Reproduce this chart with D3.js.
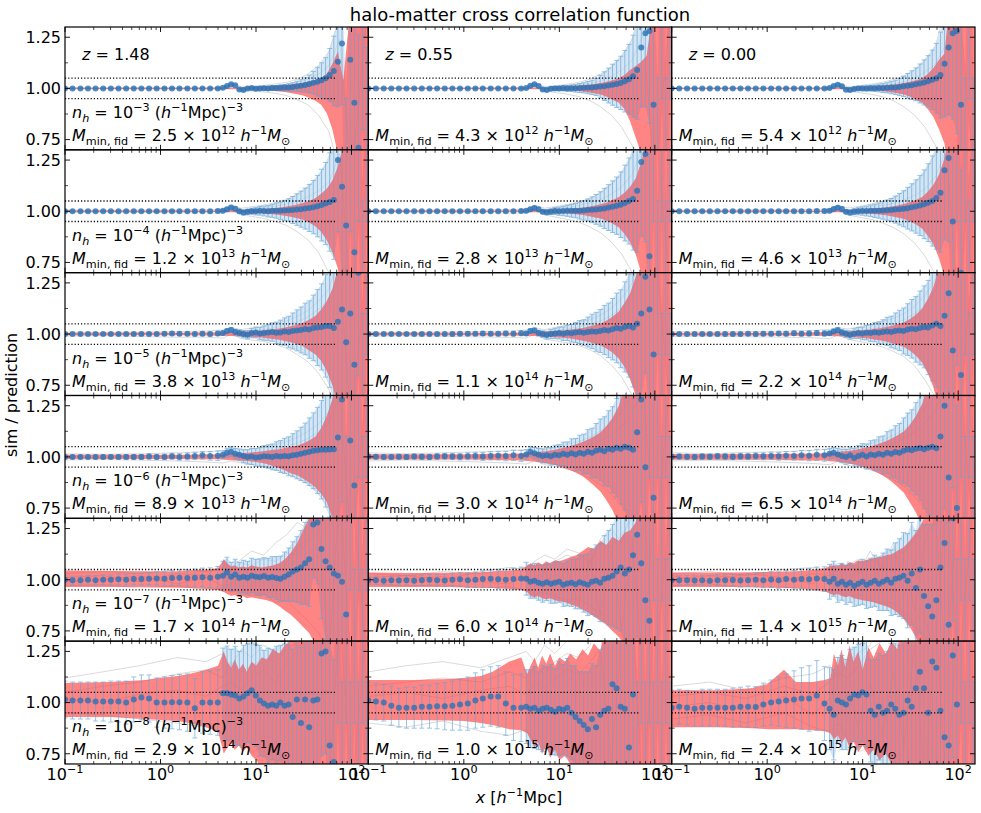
<!DOCTYPE html>
<html><head><meta charset="utf-8">
<script src="https://cdn.jsdelivr.net/npm/d3@7"></script>
<style>body{margin:0;background:#fff}svg{display:block}text{font-family:"DejaVu Sans",sans-serif;white-space:pre}</style>
</head><body>
<svg id="chart" width="981" height="813"></svg>
<script>
// ---------------- DATA ----------------
// bin centres (h^-1 Mpc): 21 log bins + 36 dense bins
const xBins = [0.1,0.12,0.145,0.174,0.209,0.251,0.302,0.363,0.437,0.525,0.631,0.759,0.912,1.1,1.32,1.58,1.91,2.29,2.75,3.31,3.98,
  4.5,4.97,5.49,6.06,6.69,7.38,8.15,9.0,9.94,10.97,12.11,13.38,14.77,16.31,18.0,19.88,21.95,24.23,26.76,29.54,32.62,36.02,39.77,43.91,48.48,53.53,59.1,65.25,72.05,79.55,87.83,96.98,107.1,118.2,130.5,144.1];
// knots of the prediction (red) band
const redX = [0.1,0.3,0.7,1,1.5,2,3,4,4.6,5,5.5,6,6.6,7.3,8,9,10,11.5,13,15,17.5,20,23,27,31,36,42,48,55,63,72,82,100,150];
// knots of the individual realisations (grey)
const greyX = [0.1,0.25,0.6,1.5,3,4.5,5.5,7,9,12,16,21,27,35,45,58,75,100,150];

const titleText = "halo-matter cross correlation function";
const redshifts = ["1.48","0.55","0.00"];
const densityExp = ["−3","−4","−5","−6","−7","−8"];
const massMant = [["2.5","4.3","5.4"],["1.2","2.8","4.6"],["3.8","1.1","2.2"],["8.9","3.0","6.5"],["1.7","6.0","1.4"],["2.9","1.0","2.4"]];
const massExp  = [["12","12","12"],["13","13","13"],["13","14","14"],["13","14","14"],["14","14","15"],["14","15","15"]];
const yTicks = [0.75,1.0,1.25];
const yMinor = [0.875,1.125];
const xTicks = [0.1,1,10,100];
const xTickExp = ["−1","0","1","2"];

// values in percent: ratio = 1 + v/100
const meanR1 = [
 [0,0,0,0,0,0,0,0,0,0,0,0,0,0,0,0,0,0,0,0,0, 0.3,1.2,2,1.5,-0.5,-0.8,0,0.2,-0.2,0,0.1,0,0.2,0.2,0.3,0.4,0.5,0.7,1,1.3,1.7,2.2,2.8,3.3,4,5,6.5,8.5,13,22,-45,14,-7,-29,40,-40],
 [0,0,0,0,0,0,0,0,0,0,0,0,0,0,0,0,0,0,0,0,0, 0.2,1.3,2,1.2,-0.5,-0.8,-0.2,0,0,0.1,0,0.1,0.1,0.2,0.3,0.4,0.5,0.7,0.9,1.1,1.4,1.8,2.2,2.7,3.5,4.5,6,9,20,27,28,-8,-45,45,-45,45],
 [0,0,0,0,0,0,0,0,0,0,0,0,0,0,0,0,0,0,0,0,0, 0.2,1.2,1.8,1,-0.6,-0.8,-0.3,0,0,0,0.1,0.1,0.2,0.2,0.3,0.4,0.5,0.7,1,1.3,1.6,2,2.4,2.9,3.5,4.2,5,6.5,12,20,27,28,-8,-45,45,-45]];
const errR1 = [
 [0.3,0.3,0.3,0.3,0.3,0.3,0.3,0.3,0.3,0.3,0.3,0.3,0.3,0.4,0.4,0.4,0.4,0.4,0.4,0.5,0.5, 0.3,0.3,0.35,0.4,0.45,0.5,0.55,0.6,0.7,0.8,0.9,1,1.1,1.2,1.35,1.5,1.8,2.1,2.5,3,3.5,4.3,5.5,7,8.5,10,13,17,22,30,40,48,50,55,60,60],
 [0.3,0.3,0.3,0.3,0.3,0.3,0.3,0.3,0.3,0.3,0.3,0.3,0.3,0.4,0.4,0.4,0.4,0.4,0.4,0.5,0.5, 0.35,0.4,0.5,0.55,0.6,0.7,0.8,0.95,1.1,1.25,1.4,1.6,1.9,2.2,2.5,3,3.5,4.2,5.5,7,8.5,10,11.5,13,15,17,20,24,29,36,45,50,50,50,50,50],
 [0.3,0.3,0.3,0.3,0.3,0.3,0.3,0.3,0.3,0.3,0.3,0.3,0.3,0.4,0.4,0.4,0.4,0.4,0.4,0.5,0.5, 0.35,0.4,0.5,0.55,0.6,0.7,0.8,0.95,1.1,1.25,1.4,1.6,1.9,2.2,2.5,3,3.5,4.2,5,6,7,8,9.5,11,12.5,14.5,17,21,26,33,42,50,50,50,50,50]];
const redHiR1 = [
 [0.3,0.3,0.3,0.3,0.3,0.3,0.3,0.3,0.3,0.4,0.4,0.4,0.4,0.5,0.5,0.6,0.7,0.8,0.9,1.1,1.3,1.6,1.9,2.3,2.8,3.3,4,5,7,12,18,4,45,45],
 [0.3,0.3,0.3,0.3,0.3,0.3,0.3,0.3,0.3,0.4,0.4,0.4,0.4,0.5,0.5,0.6,0.7,0.8,1,1.2,1.5,1.8,2.2,2.7,3.3,4,5,6.5,9,11,13,16,45,45],
 [0.3,0.3,0.3,0.3,0.3,0.3,0.3,0.3,0.3,0.4,0.4,0.4,0.4,0.5,0.5,0.6,0.7,0.8,1,1.2,1.5,1.8,2.2,2.7,3.3,4,5,7,10,14,17,45,45,45]];
const redLoR1 = [
 [0.3,0.3,0.3,0.3,0.3,0.3,0.3,0.3,0.3,0.4,0.4,0.4,0.4,0.5,0.5,0.6,0.7,0.8,1,1.2,1.5,1.8,2.2,2.8,3.5,4.5,6,8,12,20,32,45,45,45],
 [0.3,0.3,0.3,0.3,0.3,0.3,0.3,0.3,0.3,0.4,0.4,0.4,0.4,0.5,0.5,0.6,0.7,0.8,1,1.2,1.5,1.9,2.4,3,4,5.5,7,10,16,24,32,45,45,45],
 [0.3,0.3,0.3,0.3,0.3,0.3,0.3,0.3,0.3,0.4,0.4,0.4,0.4,0.5,0.5,0.6,0.7,0.8,1,1.2,1.5,1.9,2.4,3,4,5.5,7,10,14,20,27,45,45,45]];
const greyR1 = [
 [[0.3,0.2,0.3,0.2,0.3,0.5,2.5,0.8,1,1.5,2.2,3,4.5,7,11,18,35,45,45],[-0.3,-0.2,-0.3,-0.3,-0.4,-0.5,1,-1,-1.3,-1.7,-2.4,-3.5,-5.5,-8,-13,-21,-40,-45,-45],[0.1,0,0.1,0,0,0.2,1.8,0.4,0.6,1,1.4,2,3,4.5,7,11,24,-45,45]],
 [[0.3,0.2,0.2,0.2,0.3,0.5,2.5,0.9,1.3,2,3,4.5,7,10,16,24,45,45,45],[-0.3,-0.2,-0.2,-0.3,-0.4,-0.6,1,-1.3,-2,-2.8,-4,-6,-9,-13,-19,-28,-45,-45,-45],[0,0.1,0,0.1,0,0.3,1.5,0.5,0.8,1.3,1.8,2.5,3.5,6,9,14,26,-45,45]],
 [[0.3,0.2,0.2,0.2,0.3,0.5,2.5,0.9,1.3,2,3,4.3,6,9,14,21,40,45,45],[-0.3,-0.2,-0.2,-0.3,-0.4,-0.6,1,-1.3,-2,-2.8,-4,-6,-9,-13,-19,-28,-45,-45,-45],[0.1,0,0.1,0,0.1,0.2,1.6,0.4,0.7,1.1,1.6,2.3,3.3,5,8,12,22,45,-45]]];

const meanR2 = [
 [0,0,0,0,0,0,0,0,0,0,0,0,0,0,0,0,0,0,0,0,0.1, 0.3,1,1.8,1.2,0,-0.6,-0.3,0,0,0.2,0.1,0,0.2,0.3,0.2,0.4,0.5,0.6,0.8,1,1.3,1.6,2,2.5,3,3.8,4.5,5.5,25,12,-7,40,-20,45,-45,45],
 [0,0,0,0,0,0,0,0,0,0,0,0,0,0,0,0,0,0,0,0,0.1, 0.2,1,1.6,1,-0.2,-0.5,-0.2,0.1,0,0.1,0.2,0.2,0.3,0.3,0.4,0.6,0.7,0.9,1.1,1.4,1.8,2.2,2.7,3.2,4,5,6,10,24,28,-22,45,-45,45,-45,45],
 [0,0,0,0,0,0,0,0,0,0,0,0,0,0,0,0,0,0,0,0.1,0.1, 0.3,1.1,1.7,1.1,-0.2,-0.6,-0.2,0,0.1,0.1,0.2,0.2,0.3,0.4,0.5,0.6,0.8,1,1.2,1.5,1.9,2.3,2.8,3.4,4.2,5,6.5,9,20,26,-5,45,-30,45,-45,45]];
const errR2 = [
 [0.4,0.4,0.4,0.4,0.4,0.4,0.4,0.4,0.5,0.5,0.5,0.5,0.5,0.5,0.5,0.6,0.6,0.6,0.6,0.7,0.7, 0.6,0.65,0.7,0.8,0.95,1.1,1.3,1.5,1.8,2.1,2.4,2.8,3.2,3.7,4.2,4.9,5.6,6.6,7.7,8.8,10,11.5,13,15,17.5,20,24,29,35,42,50,50,50,50,50,50],
 [0.4,0.4,0.4,0.4,0.4,0.4,0.4,0.4,0.5,0.5,0.5,0.5,0.5,0.5,0.5,0.6,0.6,0.6,0.6,0.7,0.7, 0.6,0.65,0.7,0.85,1,1.2,1.4,1.7,2,2.3,2.7,3.1,3.5,4.1,4.7,5.4,6.3,7.3,8.4,9.8,11.2,12.6,14,16,18.5,21,25,30,36,43,50,50,50,50,50,50],
 [0.4,0.4,0.4,0.4,0.4,0.4,0.4,0.4,0.5,0.5,0.5,0.5,0.5,0.5,0.5,0.6,0.6,0.6,0.6,0.7,0.7, 0.6,0.65,0.75,0.9,1.05,1.25,1.5,1.75,2.05,2.4,2.8,3.2,3.7,4.3,4.9,5.6,6.6,7.7,8.8,10.2,11.5,13,14.7,16.8,19,22,25,29,34,41,50,50,50,50,50,50]];
const redHiR2 = [
 [0.4,0.4,0.4,0.4,0.4,0.4,0.4,0.4,0.4,0.5,0.5,0.5,0.6,0.6,0.7,0.8,0.9,1,1.2,1.5,1.8,2.2,2.7,3.3,4,5,6.5,8.5,11,15,22,32,45,45],
 [0.4,0.4,0.4,0.4,0.4,0.4,0.4,0.4,0.4,0.5,0.5,0.5,0.6,0.6,0.7,0.8,0.9,1,1.2,1.5,1.8,2.2,2.7,3.4,4.2,5.5,7,9,12,16,24,35,45,45],
 [0.4,0.4,0.4,0.4,0.4,0.4,0.4,0.4,0.4,0.5,0.5,0.5,0.6,0.6,0.7,0.8,0.9,1.1,1.3,1.6,1.9,2.3,2.8,3.5,4.4,5.5,7,9.5,13,18,26,38,45,45]];
const redLoR2 = [
 [0.4,0.4,0.4,0.4,0.4,0.4,0.4,0.4,0.4,0.5,0.5,0.5,0.6,0.6,0.7,0.8,0.9,1,1.2,1.5,1.8,2.2,2.7,3.4,4.2,5.5,7.5,10,14,20,28,45,45,45],
 [0.4,0.4,0.4,0.4,0.4,0.4,0.4,0.4,0.4,0.5,0.5,0.5,0.6,0.6,0.7,0.8,0.9,1,1.2,1.5,1.8,2.3,2.9,3.6,4.5,6,8,11,15,21,30,45,45,45],
 [0.4,0.4,0.4,0.4,0.4,0.4,0.4,0.4,0.4,0.5,0.5,0.5,0.6,0.6,0.7,0.8,0.9,1.1,1.3,1.6,2,2.4,3,3.8,4.8,6.3,8.5,12,16,23,32,45,45,45]];
const greyR2 = [
 [[0.6,0.5,0.6,0.6,0.8,1,3,1.5,2.2,3,4.2,5.6,8.4,12,17,25,45,45,45],[-0.6,-0.5,-0.6,-0.7,-0.8,-1,0.5,-1.8,-2.5,-3.5,-5,-7,-10,-14,-20,-30,-45,-45,-45],[0.2,0.3,-0.2,0.3,-0.3,0.4,2,0.8,1.1,1.8,2.5,3.5,5,7,10,14,28,-45,45]],
 [[0.6,0.5,0.6,0.6,0.8,1,3,1.5,2.2,3.2,4.6,6.3,9,13,18,27,45,45,45],[-0.6,-0.5,-0.6,-0.7,-0.8,-1,0.5,-1.8,-2.8,-3.9,-5.3,-7.7,-10.5,-15,-21,-30,-45,-45,-45],[-0.2,0.3,0.2,-0.3,0.4,0.2,1.8,0.6,1.3,1.8,2.8,4.2,5.6,8.4,12,18,32,45,-45]],
 [[0.6,0.5,0.7,0.6,0.9,1.1,3,1.6,2.3,3.4,4.9,6.7,9.5,13.5,19,28,45,45,45],[-0.6,-0.6,-0.6,-0.8,-0.9,-1.1,0.4,-1.9,-2.8,-3.9,-5.6,-8,-11,-15.5,-22,-31,-45,-45,-45],[0.3,-0.2,0.2,0.4,-0.3,0.5,2.2,0.4,1.1,2.1,2.8,3.9,5.6,7.7,11,17,30,-45,45]]];

const meanR3 = [
 [0,0,0,0,0,0,0,0,0,0,0,0,0,0.2,0.3,0.2,0.1,0,0.2,0,0.3, 0.5,1.5,2,1,0.5,0,-0.3,0.5,0.8,0.3,0.5,0.8,1,0.6,0.8,1.2,1,1.5,1.8,2,2.5,2.2,3,3.2,3.5,4,4,3,6,12,-4,10,-15,30,-40,40],
 [0,0,0,0,0,0,0,0,0,0,0,0,0.1,0.2,0.1,0.3,0.2,0.1,0.3,0.2,0.4, 0.3,1.5,1.8,0.5,0,-0.5,0,0.3,0.5,0.2,0.6,0.4,0.8,1,0.7,1,1.3,1.1,1.5,2,1.8,2.4,3,2.6,3.5,4,3.2,5,10,28,12,-10,40,-40,40,-40],
 [0,0,0,0,0,0,0,0,0,0,0.1,0,0.2,0.1,0.3,0.2,0.4,0.2,0.3,0.5,0.3, 0.4,1.3,1.9,0.8,0.1,-0.4,0.2,0.5,0.3,0.7,0.5,0.9,0.7,1,1.3,1,1.5,1.8,1.5,2.2,2.6,2.3,3,3.5,3.2,4.2,5,4,9,20,-8,35,-20,40,-40,40]];
const errR3 = [
 [0.6,0.6,0.6,0.6,0.6,0.6,0.7,0.7,0.7,0.7,0.7,0.8,0.8,0.8,0.8,0.9,0.9,0.9,1,1,1.1, 0.9,1,1.15,1.35,1.55,1.75,2,2.3,2.65,3,3.5,4,4.5,5.2,6,6.7,7.7,8.8,10,11.2,12.6,14,16,18.5,21,25,30,36,43,50,50,50,50,50,50,50],
 [0.7,0.7,0.7,0.7,0.7,0.7,0.8,0.8,0.8,0.8,0.8,0.9,0.9,0.9,0.9,1,1,1,1.1,1.1,1.2, 0.95,1.05,1.2,1.4,1.6,1.9,2.2,2.5,2.9,3.3,3.8,4.3,4.9,5.6,6.3,7.3,8.4,9.5,10.5,12,13.3,15,17,19,22,25,29,34,40,47,50,50,50,50,50,50],
 [0.8,0.8,0.8,0.8,0.8,0.8,0.9,0.9,0.9,0.9,0.9,1,1,1,1,1.1,1.1,1.1,1.2,1.2,1.3, 1,1.1,1.3,1.5,1.75,2,2.4,2.7,3.1,3.6,4.1,4.7,5.3,6,6.9,7.7,8.8,9.8,11.2,12.6,14.3,16,18,20,23,27,31,36,42,48,50,50,50,50,50,50]];
const redHiR3 = [
 [0.6,0.6,0.6,0.6,0.6,0.6,0.7,0.8,0.8,1,1,1.1,1.1,1.2,1.3,1.4,1.5,1.7,2,2.3,2.7,3.2,3.8,4.5,5.5,7,9,12,16,22,32,45,45,45],
 [0.6,0.6,0.6,0.6,0.7,0.7,0.7,0.8,0.8,1,1,1.1,1.2,1.3,1.4,1.5,1.7,1.9,2.2,2.6,3,3.6,4.3,5.2,6.5,8.5,11,15,20,28,40,45,45,45],
 [0.7,0.7,0.7,0.7,0.7,0.8,0.8,0.9,0.9,1.1,1.1,1.2,1.3,1.4,1.5,1.7,1.9,2.1,2.5,2.9,3.4,4,4.8,5.8,7.2,9.5,12.5,17,23,32,45,45,45,45]];
const redLoR3 = [
 [0.6,0.6,0.6,0.6,0.6,0.6,0.7,0.8,0.8,1,1,1.1,1.1,1.2,1.3,1.4,1.5,1.7,2,2.4,2.8,3.4,4,5,6,8,10,13,18,25,35,45,45,45],
 [0.6,0.6,0.6,0.6,0.7,0.7,0.7,0.8,0.8,1,1,1.1,1.2,1.3,1.4,1.5,1.7,1.9,2.2,2.7,3.2,3.8,4.6,5.6,7,9,12,16,22,30,42,45,45,45],
 [0.7,0.7,0.7,0.7,0.7,0.8,0.8,0.9,0.9,1.1,1.1,1.2,1.3,1.4,1.5,1.7,1.9,2.2,2.6,3,3.6,4.3,5.2,6.3,8,10.5,14,19,26,36,45,45,45,45]];
const greyR3 = [
 [[1,0.8,1,1.2,1.5,2,3,2.2,2.9,3.6,5,6.5,8.5,11.5,16,22,40,45,45],[-1,-0.8,-1.2,-1.5,-1.5,-2,0,-2.2,-2.9,-3.6,-5,-7,-10,-13.5,-19,-27,-45,-45,-45],[0.3,-0.4,0.5,0.2,0.8,0.5,2,1.1,1.8,2.2,3.2,4.3,6,8.5,12,17,30,-45,45]],
 [[1,0.8,1,1.2,1.5,2,3,2.2,3.2,4.3,5.6,7,9.2,12.6,17.5,25,42,45,45],[-1,-0.9,-1.1,-1.4,-1.6,-2,0,-2.5,-3.2,-4.3,-5.6,-7.7,-10.5,-15,-21,-30,-45,-45,-45],[-0.3,0.4,-0.5,0.3,0.6,-0.4,2.2,0.7,1.4,2.5,3.5,5,6.3,9,13,20,35,45,-45]],
 [[1.2,1,1.2,1.4,1.8,2.2,3.2,2.5,3.5,4.6,6,7.7,10,13.5,19,27,45,45,45],[-1.2,-1,-1.3,-1.5,-1.8,-2.2,-0.5,-2.5,-3.5,-4.6,-6.3,-8.5,-11,-15.5,-22.5,-31,-45,-45,-45],[0.4,-0.5,0.3,-0.2,0.7,0.5,2.5,0.9,1.6,2.5,3.5,5,7,10,14,21,38,-45,45]]];

const meanR4 = [
 [0,0,0,0,0,0,0,0,0,0,0,0.2,0,0,0.3,0,0.2,0.5,0.8,0.5,0.6, 1,2,2.5,1.5,1,0.5,0,0.2,-0.3,0,0.3,0.2,0,0.4,0.2,0.5,0.3,0.8,1,1.5,2,2.5,3,3.2,3.5,3.5,3.6,3.8,9.5,28,-40,8,-14,40,-40,40],
 [0.2,0.1,0,0,0.1,0,0.2,0.1,0,0.2,0.3,0.2,0.1,0.3,0.4,0.2,0.5,0.6,0.4,0.8,0.5, 1.2,2.5,1.8,1,0.5,0.8,0.3,1,0.8,1.5,1,1.8,1.2,2,1.5,2.5,2,3,3.5,2.8,4,3.5,4.5,4,5,4.5,3.5,12,28,-5,40,-20,40,-40,40,-40],
 [0.1,0.2,0.1,0,0.2,0.1,0.3,0.2,0.1,0.3,0.2,0.4,0.3,0.5,0.3,0.6,0.5,0.8,0.6,1,0.8, 1.5,2,1.2,0.5,0,0.8,-0.5,0.5,1,0.2,1.2,0.8,1.5,1,2,1.6,2.4,2,3,3.6,3.2,4,4.4,3.8,4.5,5,4.2,10,25,-10,35,-25,40,-40,40,-40]];
const errR4 = [
 [0.9,0.9,0.9,0.9,1,1,1,1.1,1.1,1.2,1.2,1.3,1.3,1.4,1.5,1.6,1.7,1.8,1.9,2.1,2.3, 2,2.2,2.4,2.6,2.9,3.2,3.5,3.9,4.3,4.7,5.2,5.7,6.3,7,7.8,8.6,9.5,10.5,11.7,13,14.5,16.5,18.5,21,24,28,33,39,46,50,50,50,50,50,50,50],
 [1.1,1.1,1.1,1.1,1.2,1.2,1.2,1.3,1.3,1.4,1.4,1.5,1.6,1.7,1.8,1.9,2,2.1,2.3,2.5,2.7, 2.3,2.5,2.8,3.1,3.4,3.8,4.2,4.7,5.2,5.7,6.3,7,7.8,8.6,9.6,10.8,12,13.3,15,16.8,18.5,21,24,27,31,36,42,48,50,50,50,50,50,50,50,50],
 [1.2,1.2,1.2,1.2,1.3,1.3,1.3,1.4,1.4,1.5,1.5,1.6,1.7,1.8,1.9,2,2.1,2.3,2.5,2.7,2.9, 2.5,2.7,3,3.3,3.6,4,4.5,5,5.5,6.1,6.7,7.5,8.3,9.2,10.3,11.5,12.8,14.3,16,17.8,19.8,22.5,25.5,29,33,38,44,50,50,50,50,50,50,50,50,50]];
const redHiR4 = [
 [1,1,1,1,1,1.1,1.2,1.2,1.3,1.5,1.6,1.7,1.8,1.9,2,2.2,2.4,2.7,3,3.4,3.8,4.3,5,5.5,6.5,8,10,14,20,28,45,45,45,45],
 [1.3,1.3,1.3,1.3,1.4,1.5,1.6,1.7,2,2.1,2.2,2.4,2.6,2.8,3.1,3.5,4,4.6,5.3,6.2,7.3,8.5,10,12,15,19,25,34,45,45,45,45,45,45],
 [1.4,1.4,1.4,1.4,1.5,1.6,1.7,1.8,2.1,2.2,2.4,2.6,2.8,3,3.3,3.7,4.2,4.8,5.6,6.5,7.7,9,10.5,12.5,15.5,20,26,35,45,45,45,45,45,45]];
const redLoR4 = [
 [1,1,1,1,1,1.1,1.2,1.2,1.3,1.5,1.6,1.7,1.8,1.9,2,2.2,2.5,3,3.5,4.5,5.5,6.5,8,9,10.5,12.5,15,18,22,30,45,45,45,45],
 [1.3,1.3,1.3,1.3,1.4,1.5,1.6,1.7,2,2.1,2.3,2.5,2.8,3.1,3.5,4,4.7,5.5,6.5,7.8,9.5,11.5,14,17,21,26,33,42,45,45,45,45,45,45],
 [1.4,1.4,1.4,1.4,1.5,1.6,1.7,1.8,2.1,2.2,2.4,2.6,2.9,3.2,3.6,4.2,4.9,5.8,6.8,8.2,10,12,14.5,17.5,22,27,34,43,45,45,45,45,45,45]];
const greyR4 = [
 [[1.5,1.3,1.5,2,2.5,3,4,3,3.7,4.5,6,7.5,9.5,12.5,16,22,40,45,45],[-1.5,-1.3,-1.6,-2,-2.5,-3,-2,-3,-3.7,-4.5,-6,-8,-10.5,-13.5,-18,-25,-45,-45,-45],[0.5,-0.6,0.8,-0.4,1,0.5,2.5,1.1,1.9,2.6,3.7,5.2,6.7,9,12,16.5,30,-45,45]],
 [[2,1.5,2,2.5,3,3.5,5,3.7,4.5,6,7.5,9.7,12.7,16.5,22.5,30,45,45,45],[-2,-1.5,-2,-2.5,-3,-3.5,-2,-3.7,-4.5,-6,-7.5,-10.5,-13.5,-18,-24,-32,-45,-45,-45],[0.5,-0.8,1,-0.5,1.2,0.6,3,1.5,2.2,3,4.5,6,8.2,11,15,21,35,-45,45]],
 [[2,1.6,2.2,2.6,3.2,3.8,5.5,3.7,4.9,6.4,8.2,10.5,13.5,18,24,32,45,45,45],[-2,-1.6,-2.1,-2.6,-3.2,-3.8,-2.2,-4.1,-4.9,-6.4,-8.2,-11.2,-14.2,-19.5,-25.5,-33,-45,-45,-45],[-0.6,0.7,-0.4,1,0.6,1.4,3.2,1.3,2.6,3.4,4.9,6.4,9,12,16.5,22.5,40,45,-45]]];

const meanR5 = [
 [0,-0.3,-0.2,0,-0.2,0,0,0.2,0,0.3,0.3,0.5,0.6,0.5,0.8,1,0.8,1,1.2,1,1.5, 2,3.5,1.5,2.5,1,1.5,1,2,1.5,1.2,1.8,1,1.3,0.8,0.5,1.5,2.5,4,5,6,8,10,27,28,15,9,6,3,2,-1,-17,45,-45,45,-45,45],
 [-0.3,-0.2,-0.5,-0.3,-0.4,-0.2,-0.5,-0.3,0,-0.2,-0.4,0,0.2,-0.2,0,0.3,0.5,0.2,0,0.4,0.6, 0.5,-1,-0.5,-1.5,-2,-1.2,-2,-1.5,-1,-2.5,-1.8,-1.5,-2.2,-1.2,-1.8,-2.5,-1,-0.5,-1.5,0.5,1,2,4,6,3,5,12,22,8,-10,-20,40,-40,40,-40,40],
 [-0.2,-0.3,-0.2,-0.4,-0.3,-0.5,-0.2,-0.3,-0.1,-0.4,-0.2,0,-0.3,0.1,-0.2,0.3,0,0.4,0.2,0.6,0.3, -1,0.5,-2,-1,-2.5,-1.5,-3,-2,-1,-2.5,-1.5,-0.5,-2,-1,0,-1.5,0.5,1,2,-0.5,3,-4,5,-8,-13,-18,-10,6,18,-22,30,-40,40,-40,40,-40]];
const errR5 = [
 [2,2,2,2.2,2.2,2.4,2.4,2.6,2.6,2.8,2.8,3,3.2,3.4,3.6,3.8,4,4.2,4.5,4.8,5, 7,7.5,7,7.5,7.5,8,8,8.5,8.5,9,9,9.5,10,10.5,11,12,13,14.5,16,18,20,23,26,30,34,38,42,46,50,50,50,50,50,50,50,50],
 [2,2,2,2.1,2.2,2.3,2.4,2.5,2.6,2.8,3,3.2,3.4,3.6,3.8,4,4.3,4.6,5,5.3,5.6, 8,8,8.5,8.5,9,9,9.5,10,10,10.5,11,11.5,12,13,14,15,16,17.5,19,21,23,25,28,31,35,40,45,50,50,50,50,50,50,50,50,50],
 [2.2,2.2,2.2,2.3,2.4,2.5,2.6,2.7,2.8,3,3.2,3.4,3.6,3.8,4,4.2,4.5,4.8,5.2,5.6,6, 8.5,8.5,9,9,9.5,9.5,10,10.5,11,11.5,12,12.5,13,14,15,16,17.5,19,21,23,25,28,31,35,40,45,50,50,50,50,50,50,50,50,50,50]];
const redHiR5 = [
 [4.5,4.3,4.1,4,4.2,4.5,5,5.5,10,8,6.5,7,6,6.5,6,7,6.5,6,6.5,7,8,10,13,18,24,30,45,45,45,45,45,45,45,45],
 [3.5,3.3,3.4,3.5,3.7,4,4.5,5,7,8,7,8.5,7.5,9,8,9.5,9,10,11,12,14,16,15,19,17,21,19,23,24,28,45,45,45,45],
 [3.5,3.5,3.6,3.8,4,4.2,4.8,5.5,7,7,6.5,8,7,8.5,8,9.5,9,10,10.5,11,12,12.5,14,16,19,23,28,35,45,45,45,45,45,45]];
const redLoR5 = [
 [3.5,3.5,3.6,3.8,3.9,4,4.5,5,6,7,8,7.5,8.5,8,9,8.5,9,9.5,10,11,13,15,17,20,23,26,32,45,45,45,45,45,45,45],
 [3.5,3.5,3.6,3.8,3.9,4,4.5,5,6,8,8.5,8,9,9.5,9,10,10.5,11,12,13,14.5,16,18,20,22,25,28,32,38,45,45,45,45,45],
 [3.5,3.5,3.6,3.8,4,4.2,4.8,5.5,7,7.5,7,8,8.5,8,9,9.5,10,10.5,11,12,13,14,16,19,23,28,35,45,45,45,45,45,45,45]];
const greyR5 = [
 [[3,4,3,5,4,6,5,8,7,10,9,13,12,18,24,30,40,45,45],[-3,-2.5,-4,-3,-5,-4,-6,-5,-8,-7,-11,-10,-15,-20,-26,-35,-45,-45,-45],[1,2,-1,3,2,8,6,10,14,12,18,22,28,25,35,45,45,-45,45],[-1,0,2,-2,1,-3,-2,3,-4,6,-6,9,15,20,30,-40,45,45,-45]],
 [[3,2,4,3,5,6,8,7,9,12,10,14,18,16,22,30,45,45,45],[-2,-3,-2.5,-4,-3.5,-5,-7,-6,-8,-10,-9,-13,-16,-20,-26,-35,-45,-45,-45],[1,2,0,4,6,5,9,12,10,15,13,8,20,25,18,35,45,-45,45],[-1,0.5,1.5,-1,-2,2,-3,4,-5,6,-12,10,-18,14,-25,20,-45,45,45]],
 [[3,4,2,5,6,5,8,7,10,9,12,15,13,20,26,35,45,45,45],[-3,-2,-4,-3.5,-5,-6,-5,-8,-7,-10,-12,-11,-16,-22,-28,-38,-45,-45,-45],[0,2,1,-1,3,2,5,-2,6,-4,8,-6,12,-15,20,30,-45,45,45],[2,-1,3,1,-2,4,-4,9,3,14,5,18,-9,10,-20,-35,45,-45,45]]];

const meanR6 = [
 [1.5,1,1,1,0.5,0.5,0.5,0.5,0,1.5,2.5,2,0,0,0.2,0.2,0,-2.8,0,0,0, 4.6,4.6,4,3.5,2,3,4.6,6,3.5,1,-0.5,-1.5,-1,-1.5,0,-1.5,-1,-7,1.5,-10,1.5,-12,1,1.5,24,25,-21,-29,40,-40,40,-40,40,-40,40,-40],
 [1,0.5,0,-1.5,-2.5,-2.5,-2.5,-2,-2,-1.8,-1.8,-1.5,-1,-0.5,1,2,3,3,-0.5,-2.5,-2.5, -2,-3,-2.5,-4,-3,-2.5,-3.5,-4.5,-3,-3.5,-2.5,-5,-7,-9,-11,-13,-8,-12,-6,-4,-3,9,7,-2,-3,-22,4,-40,40,-40,40,-40,40,-40,40,-40],
 [-2.5,-2,-2.5,-3,-2.5,-2.5,-2.5,-2.5,-2.5,-2,-2,-2.2,-1,0,0.5,1,1.5,2,2,3.5,-0.5, -3,-6,1,0,-1,2,4,3.5,5,4,-4,-6,-2,-5,-4,-1,-3,-6,-5,1,-2,7,15,7,-5,20,17,-4,-17,-21,23,-1,40,-40,40,-40]];
const errR6 = [
 [9,9,9,9,9.5,9.5,10,10,10.5,11,11,11.5,12,12.5,13,13.5,14,14.5,15,15.5,16, 22,23,22,24,23,25,24,26,25,27,26,28,27,29,28,30,31,33,35,37,40,43,46,50,50,50,50,50,50,50,50,50,50,50,50,50],
 [9,9,9,9.5,9.5,10,10,10.5,10.5,11,11.5,12,12.5,13,13.5,14,14.5,15,15.5,16,16.5, 18,19,20,19,21,20,22,21,23,22,24,23,25,24,26,28,27,30,32,35,38,42,46,50,50,50,50,50,50,50,50,50,50,50,50,50],
 [8.5,8.5,8.5,8.5,9,9,9,9,9.5,9.5,10,10,10.5,11,12,13,14,15,16,17,18, 20,22,21,23,22,24,23,25,24,26,25,27,26,28,29,30,32,34,36,39,42,45,48,50,50,50,50,50,50,50,50,50,50,50,50,50]];
const redHiR6 = [
 [9.5,10,11,12,13,14,16,18,25,20,17,21,16,19,15,20,18,22,21,26,24,28,30,45,45,45,45,45,45,45,45,45,45,45],
 [11,11,11.5,12,13,15,20,22,14,18,22,17,23,19,24,18,22,20,24,21,26,23,29,25,45,45,45,45,45,45,45,45,45,45],
 [6,6,7,9,16,10,10,11,12,24,18,26,17,28,20,25,16,27,22,29,24,30,26,45,45,45,45,45,45,45,45,45,45,45]];
const redLoR6 = [
 [7,7,8,8.5,9,10,12,14,25,22,20,23,21,24,22,26,28,32,45,45,45,45,45,45,45,45,45,45,45,45,45,45,45,45],
 [8.5,8.5,8.7,9,10,11,13,13.5,15,18,22,19,25,21,27,23,28,26,30,45,45,45,45,45,45,45,45,45,45,45,45,45,45,45],
 [12,12,12.5,13,13,13,13.5,14,15,18,16,20,17,22,19,24,21,26,23,28,25,30,45,45,45,45,45,45,45,45,45,45,45,45]];
const greyR6 = [
 [[12,15,18,22,20,24,18,26,22,28,25,30,45,45,45,45,45,45,45],[5,8,10,14,16,12,20,15,18,22,20,26,30,45,45,45,45,45,45],[-5,-6,-8,-10,-12,-15,-20,-18,-24,-22,-28,-30,-45,-45,-45,-45,-45,-45,-45],[2,0,4,6,3,8,10,6,12,16,10,20,25,35,45,-45,45,-45,45]],
 [[15,18,20,17,22,25,20,28,24,30,45,45,45,45,45,45,45,45,45],[8,10,12,10,15,12,18,14,20,24,22,28,45,45,45,45,45,45,45],[-10,-12,-9,-14,-16,-13,-20,-22,-26,-24,-30,-45,-45,-45,-45,-45,-45,-45,-45],[3,5,2,6,8,4,10,7,12,16,14,20,26,-30,35,45,-45,45,45]],
 [[8,10,6,12,14,18,12,20,24,28,45,45,45,45,45,45,45,45,45],[-8,-6,-10,-5,-12,-14,-10,-18,-24,-22,-28,-45,-45,-45,-45,-45,-45,-45,-45],[3,5,2,8,4,10,15,12,18,26,30,45,45,45,45,45,45,45,45],[-2,0,-4,3,-6,2,-8,6,-12,10,-16,15,-22,30,-45,45,-45,45,45]]];

// ---------------- DRAWING ----------------
const rows = [
 {mean:meanR1, err:errR1, hi:redHiR1, lo:redLoR1, grey:greyR1},
 {mean:meanR2, err:errR2, hi:redHiR2, lo:redLoR2, grey:greyR2},
 {mean:meanR3, err:errR3, hi:redHiR3, lo:redLoR3, grey:greyR3},
 {mean:meanR4, err:errR4, hi:redHiR4, lo:redLoR4, grey:greyR4},
 {mean:meanR5, err:errR5, hi:redHiR5, lo:redLoR5, grey:greyR5},
 {mean:meanR6, err:errR6, hi:redHiR6, lo:redLoR6, grey:greyR6}];

const W = 981, H = 813;
const L0 = 65, T0 = 27, PW = 303.33, PH = 122.83;
const NLOG = 21;
const FS = 16;
const svg = d3.select("#chart");
svg.append("rect").attr("width", W).attr("height", H).attr("fill", "#fff");
const defs = svg.append("defs");
const val = v => 1 + v / 100;

function mtext(sel, parts, size) {
  let cur = 0;
  parts.forEach(p => {
    const target = p.s === "sup" ? -0.42 * size : (p.s === "sub" ? 0.24 * size : 0);
    const ts = sel.append("tspan").attr("dy", (target - cur).toFixed(2)).text(p.t);
    cur = target;
    if (p.s) ts.attr("font-size", (0.7 * size).toFixed(1));
    if (p.i) ts.attr("font-style", "italic");
  });
  return sel;
}

rows.forEach((R, r) => {
  for (let c = 0; c < 3; c++) {
    const x0 = L0 + c * PW, y0 = T0 + r * PH;
    const x = d3.scaleLog().domain([0.1, 150]).range([x0, x0 + PW]);
    const y = d3.scaleLinear().domain([0.7, 1.3]).range([y0 + PH, y0]);
    const cid = "clip" + r + c;
    defs.append("clipPath").attr("id", cid).append("rect")
      .attr("x", x0).attr("y", y0).attr("width", PW).attr("height", PH);
    const g = svg.append("g").attr("clip-path", "url(#" + cid + ")");
    const m = R.mean[c], e = R.err[c], hi = R.hi[c], lo = R.lo[c];
    const n = Math.min(m.length, e.length, xBins.length);

    // grey individual realisations
    R.grey[c].forEach(line => {
      g.append("path").datum(line.slice(0, greyX.length))
        .attr("d", d3.line().x((d, i) => x(greyX[i])).y(d => y(val(d))))
        .attr("fill", "none").attr("stroke", "#c4c4c4").attr("stroke-width", 0.8).attr("opacity", 0.8);
    });

    // light blue envelope of the dense bins
    const dense = d3.range(NLOG, n);
    g.append("path").datum(dense)
      .attr("d", d3.area().x(i => x(xBins[i])).y0(i => y(val(m[i] - e[i]))).y1(i => y(val(m[i] + e[i]))))
      .attr("fill", "#b9d6ec").attr("opacity", 0.6);

    // prediction band
    const nr = Math.min(redX.length, hi.length, lo.length);
    g.append("path").datum(d3.range(nr))
      .attr("d", d3.area().x(i => x(redX[i])).y0(i => y(val(-lo[i]))).y1(i => y(val(hi[i]))))
      .attr("fill", "#ff4a4a").attr("opacity", 0.68);

    // error bars
    const eb = g.append("g").attr("stroke", "#62a3d6").attr("stroke-width", 1).attr("opacity", 0.65);
    d3.range(n).forEach(i => {
      const xi = x(xBins[i]), ya = y(val(m[i] - e[i])), yb = y(val(m[i] + e[i]));
      eb.append("line").attr("x1", xi).attr("x2", xi).attr("y1", ya).attr("y2", yb);
      eb.append("line").attr("x1", xi - 2.5).attr("x2", xi + 2.5).attr("y1", ya).attr("y2", ya);
      eb.append("line").attr("x1", xi - 2.5).attr("x2", xi + 2.5).attr("y1", yb).attr("y2", yb);
    });

    // mean points
    g.append("g").selectAll("circle").data(d3.range(n)).join("circle")
      .attr("cx", i => x(xBins[i])).attr("cy", i => y(val(m[i]))).attr("r", 3)
      .attr("fill", "#2a72b5").attr("opacity", 0.8);

    // ±5% guide lines
    [0.95, 1.05].forEach(v => {
      g.append("line").attr("x1", x(0.1)).attr("x2", x(70)).attr("y1", y(v)).attr("y2", y(v))
        .attr("stroke", "#000").attr("stroke-width", 1.3).attr("stroke-dasharray", "1.2,2");
    });

    // frame and ticks
    const fr = svg.append("g").attr("stroke", "#000").attr("fill", "none");
    fr.append("rect").attr("x", x0).attr("y", y0).attr("width", PW).attr("height", PH).attr("stroke-width", 1.2);
    const minors = [];
    [0.1, 1, 10].forEach(d => { for (let k = 2; k <= 9; k++) minors.push(d * k); });
    xTicks.forEach(t => {
      const xx = x(t);
      fr.append("line").attr("x1", xx).attr("x2", xx).attr("y1", y0 + PH).attr("y2", y0 + PH - 5).attr("stroke-width", 0.9);
      fr.append("line").attr("x1", xx).attr("x2", xx).attr("y1", y0).attr("y2", y0 + 5).attr("stroke-width", 0.9);
    });
    minors.forEach(t => {
      const xx = x(t);
      fr.append("line").attr("x1", xx).attr("x2", xx).attr("y1", y0 + PH).attr("y2", y0 + PH - 3).attr("stroke-width", 0.7);
      fr.append("line").attr("x1", xx).attr("x2", xx).attr("y1", y0).attr("y2", y0 + 3).attr("stroke-width", 0.7);
    });
    yTicks.forEach(t => {
      const yy = y(t);
      fr.append("line").attr("x1", x0).attr("x2", x0 + 5).attr("y1", yy).attr("y2", yy).attr("stroke-width", 0.9);
      fr.append("line").attr("x1", x0 + PW).attr("x2", x0 + PW - 5).attr("y1", yy).attr("y2", yy).attr("stroke-width", 0.9);
    });
    yMinor.forEach(t => {
      const yy = y(t);
      fr.append("line").attr("x1", x0).attr("x2", x0 + 3).attr("y1", yy).attr("y2", yy).attr("stroke-width", 0.7);
      fr.append("line").attr("x1", x0 + PW).attr("x2", x0 + PW - 3).attr("y1", yy).attr("y2", yy).attr("stroke-width", 0.7);
    });

    // tick labels
    if (c === 0) {
      yTicks.forEach(t => {
        svg.append("text").attr("x", x0 - 4).attr("y", y(t) + 5.8).attr("text-anchor", "end")
          .attr("font-size", FS).text(t.toFixed(2));
      });
    }
    if (r === 5) {
      xTicks.forEach((t, k) => {
        const tx = svg.append("text").attr("x", x(t)).attr("y", y0 + PH + 16).attr("text-anchor", "middle").attr("font-size", FS);
        mtext(tx, [{t: "10"}, {t: xTickExp[k], s: "sup"}], FS);
      });
    }

    // panel annotations
    if (r === 0) {
      const tz = svg.append("text").attr("x", x0 + 17).attr("y", y0 + 33).attr("font-size", FS);
      mtext(tz, [{t: "z", i: true}, {t: " = " + redshifts[c]}], FS);
    }
    if (c === 0) {
      const tn = svg.append("text").attr("x", x0 + 7).attr("y", y0 + 91).attr("font-size", FS);
      mtext(tn, [{t: "n", i: true}, {t: "h", i: true, s: "sub"}, {t: " = 10"}, {t: densityExp[r], s: "sup"},
        {t: " ("}, {t: "h", i: true}, {t: "−1", s: "sup"}, {t: "Mpc)"}, {t: "−3", s: "sup"}], FS);
    }
    const tm = svg.append("text").attr("x", x0 + 7).attr("y", y0 + 114).attr("font-size", FS);
    mtext(tm, [{t: "M", i: true}, {t: "min, fid", s: "sub"}, {t: " = " + massMant[r][c] + " × 10"},
      {t: massExp[r][c], s: "sup"}, {t: " "}, {t: "h", i: true}, {t: "−1", s: "sup"}, {t: "M", i: true}, {t: "⊙", s: "sub"}], FS);
  }
});

// titles and axis labels
svg.append("text").attr("x", 520).attr("y", 21).attr("text-anchor", "middle").attr("font-size", 18).text(titleText);
const xl = svg.append("text").attr("x", 519).attr("y", 803).attr("text-anchor", "middle").attr("font-size", FS);
mtext(xl, [{t: "x", i: true}, {t: " ["}, {t: "h", i: true}, {t: "−1", s: "sup"}, {t: "Mpc]"}], FS);
svg.append("text").attr("transform", "translate(17,395) rotate(-90)").attr("text-anchor", "middle")
  .attr("font-size", FS).text("sim / prediction");
</script>
</body></html>
